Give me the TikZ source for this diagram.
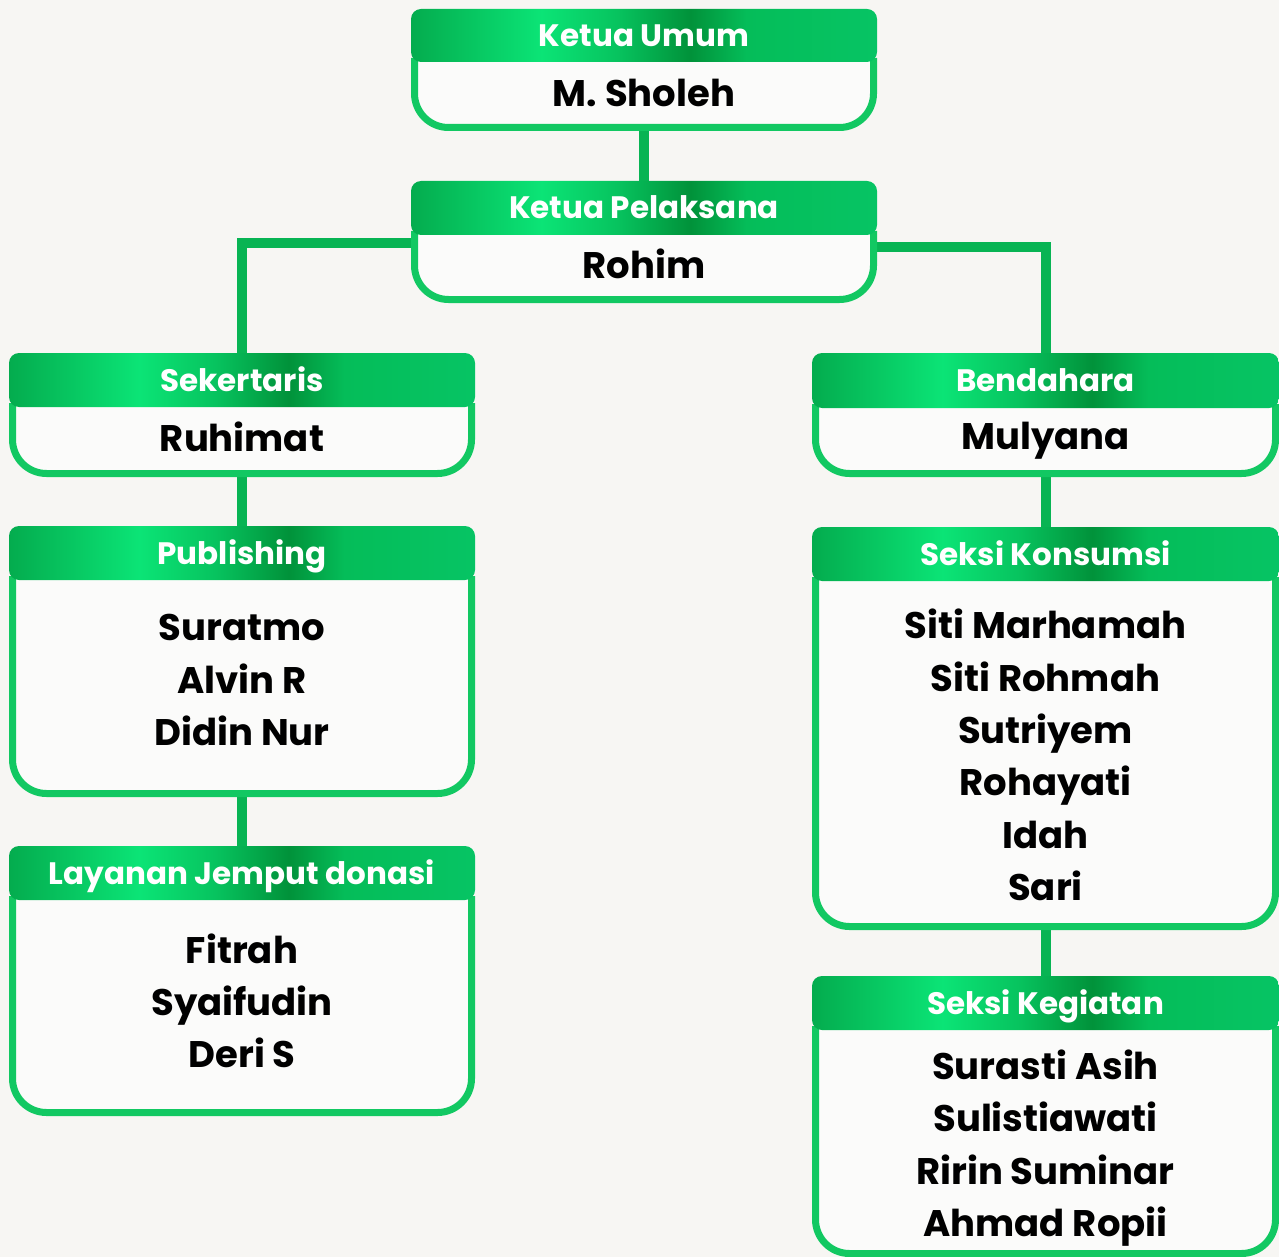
\documentclass[tikz,border=0pt]{standalone}
\usepackage{fontspec}
\setmainfont{Poppins}
\pgfdeclarelayer{back}
\pgfdeclarelayer{conn}
\pgfsetlayers{back,conn,main}
\definecolor{bgcol}{HTML}{F7F6F3}
\definecolor{bodyfill}{HTML}{FBFBFA}
\definecolor{boxgreen}{HTML}{12C862}
\definecolor{conngreen}{HTML}{08B453}
\definecolor{gA}{HTML}{04AC4E}
\definecolor{gB}{HTML}{0BE476}
\definecolor{gC}{HTML}{07C45F}
\definecolor{gD}{HTML}{01923A}
\definecolor{gE}{HTML}{05BD59}
\definecolor{gF}{HTML}{06C464}
\pgfdeclarehorizontalshading{hdrshade}{100bp}{color(0bp)=(gA); color(25bp)=(gA); color(39bp)=(gB); color(47bp)=(gC); color(55bp)=(gD); color(61bp)=(gE); color(75bp)=(gF); color(100bp)=(gF)}
\tikzset{
  hdr/.style={shading=hdrshade, rounded corners=10pt},
  boxline/.style={fill=bodyfill, draw=boxgreen, line width=7pt, rounded corners=34pt},
  ttl/.style={text=white, font=\bfseries\fontsize{31}{36}\selectfont, inner sep=0pt, text height=22pt, text depth=0pt},
  nm/.style={text=black, font=\bfseries\fontsize{37}{52.3}\selectfont, align=center, inner sep=0pt},
  conn/.style={draw=conngreen, line width=10pt}
}
\newcommand{\orgbox}[9]{%
  \pgfmathsetmacro\xc{(#2+#3)/2}%
  \path[boxline] (#2+3.5,#5-4) -- (#2+3.5,#6-3.5) -- (#3-3.5,#6-3.5) -- (#3-3.5,#5-4);
  \shade[hdr] (#2,#4) rectangle (#3,#5);
  \node[ttl] (#1-t) at (\xc,{(#4+#5)/2}) {#7};
  \node[nm] (#1-n) at (\xc,#8) {#9};
  \coordinate (#1-top) at (\xc,#4);
  \coordinate (#1-bot) at (\xc,#6);
  \coordinate (#1-l) at (#2,#5+8);
  \coordinate (#1-r) at (#3,#5+12);
}
\begin{document}
\begin{tikzpicture}[x=1pt,y=-1pt]
\useasboundingbox (0,0) rectangle (1279,1257);
\begin{pgfonlayer}{back}
\fill[bgcol] (0,0) rectangle (1279,1257);
\end{pgfonlayer}
\orgbox{ku}{411}{877}{9}{62}{131}{Ketua Umum}{93}{M. Sholeh}
\orgbox{kp}{411}{877}{181}{235}{303}{Ketua Pelaksana}{264}{Rohim}
\orgbox{sk}{9}{475}{353}{407}{477}{Sekertaris}{437}{Ruhimat}
\orgbox{bd}{812}{1279}{353}{408}{477}{Bendahara}{441}{Mulyana}
\orgbox{pb}{9}{475}{526}{580}{797}{Publishing}{680}{Suratmo\\Alvin R\\Didin Nur}
\orgbox{ko}{812}{1279}{527}{581}{930}{Seksi Konsumsi}{755}{Siti Marhamah\\Siti Rohmah\\Sutriyem\\Rohayati\\Idah\\Sari}
\orgbox{lj}{9}{475}{846}{900}{1116}{Layanan Jemput donasi}{1001}{Fitrah\\Syaifudin\\Deri S}
\orgbox{kg}{812}{1279}{976}{1030}{1257}{Seksi Kegiatan}{1148}{Surasti Asih\\Sulistiawati\\Ririn Suminar\\Ahmad Ropii}
\begin{pgfonlayer}{conn}
\draw[conn] (ku-bot) -- (kp-top);
\draw[conn] (kp-l) -| (sk-top);
\draw[conn] (kp-r) -| (bd-top);
\draw[conn] (sk-bot) -- (pb-top);
\draw[conn] (pb-bot) -- (lj-top);
\draw[conn] (bd-bot) -- (ko-top);
\draw[conn] (ko-bot) -- (kg-top);
\end{pgfonlayer}
\end{tikzpicture}
\end{document}
